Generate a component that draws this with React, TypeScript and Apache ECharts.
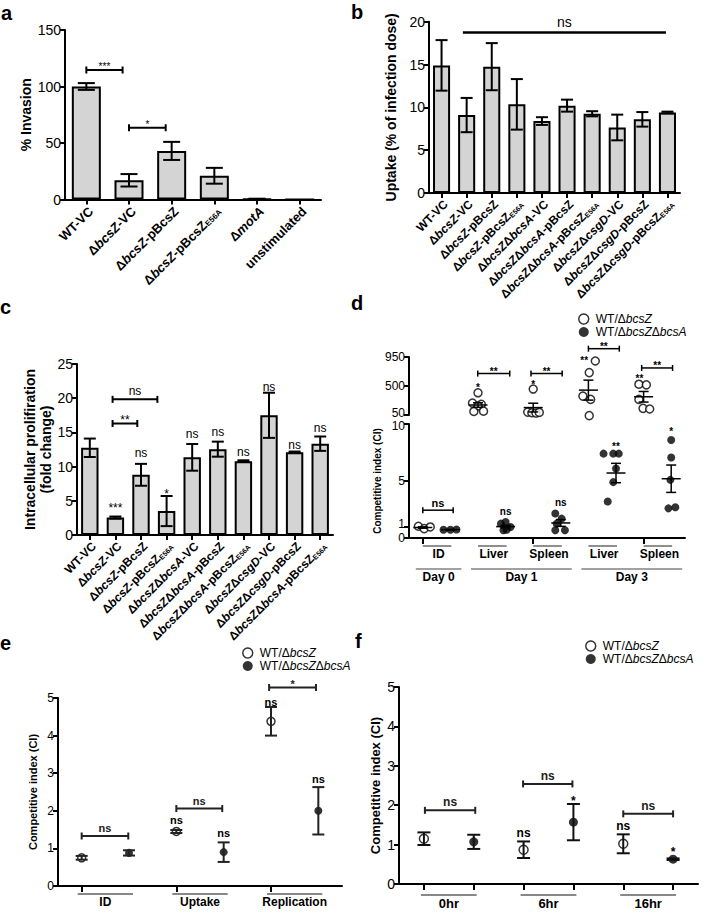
import React, { useEffect, useRef } from 'react';
import * as echarts from 'echarts';

const FONT = '"Liberation Sans", Arial, Helvetica, sans-serif';
const OPEN = 'WT/ΔbcsZ';
const FILLED = 'WT/ΔbcsZΔbcsA';

// ---------------- Panel a ----------------
const aCategories = ['WT-VC', 'ΔbcsZ-VC', 'ΔbcsZ-pBcsZ', 'ΔbcsZ-pBcsZE56A', 'ΔmotA', 'unstimulated'];
const aValues = [100, 17, 43, 21, 0.5, 0];
const aErrors = [3, 5.5, 8, 7, 0.2, 0];
const aBrackets: [number, number, number, string][] = [
  [0, 0.85, 114.6, '***'],
  [1, 1.86, 63.5, '*'],
];

// ---------------- Panel b ----------------
const bCategories = [
  'WT-VC', 'ΔbcsZ-VC', 'ΔbcsZ-pBcsZ', 'ΔbcsZ-pBcsZE56A', 'ΔbcsZΔbcsA-VC', 'ΔbcsZΔbcsA-pBcsZ',
  'ΔbcsZΔbcsA-pBcsZE56A', 'ΔbcsZΔcsgD-VC', 'ΔbcsZΔcsgD-pBcsZ', 'ΔbcsZΔcsgD-pBcsZE56A',
];
const bValues = [14.9, 9.1, 14.75, 10.35, 8.4, 10.2, 9.25, 7.65, 8.6, 9.4];
const bErrors = [2.95, 2.0, 2.75, 2.95, 0.45, 0.7, 0.3, 1.5, 0.85, 0.1];
const bBrackets: [number, number, number, string][] = [[0.85, 8.94, 18.75, 'ns']];

// ---------------- Panel c ----------------
const cCategories = [
  'WT-VC', 'ΔbcsZ-VC', 'ΔbcsZ-pBcsZ', 'ΔbcsZ-pBcsZE56A', 'ΔbcsZΔbcsA-VC', 'ΔbcsZΔbcsA-pBcsZ',
  'ΔbcsZΔbcsA-pBcsZE56A', 'ΔbcsZΔcsgD-VC', 'ΔbcsZΔcsgD-pBcsZ', 'ΔbcsZΔbcsA-pBcsZE56A ',
];
const cValues = [12.75, 2.55, 8.8, 3.5, 11.35, 12.55, 10.8, 17.5, 12.1, 13.35];
const cErrors = [1.35, 0.15, 1.6, 2.2, 1.95, 1.1, 0.12, 3.3, 0.1, 1.05];
const cBrackets: [number, number, number, string][] = [
  [0.89, 2.64, 19.83, 'ns'],
  [0.89, 1.855, 16.3, '**'],
];
const cMarks: [number, number, string][] = [
  [1, 4.48, '***'], [2, 12.04, 'ns'], [3, 6.58, '*'], [4, 14.77, 'ns'], [5, 15.0, 'ns'],
  [6, 12.1, 'ns'], [7, 21.7, 'ns'], [8, 13.16, 'ns'], [9, 15.6, 'ns'],
];

// ---------------- Panel d ----------------
const dSlots = ['ID-A', 'ID-B', 'D1Liver-A', 'D1Liver-B', 'D1Spleen-A', 'D1Spleen-B', 'D3Liver-A', 'D3Liver-B', 'D3Spleen-A', 'D3Spleen-B'];
const dTopSlots = [2, 4, 6, 8];
const dOpenBottomSlots = [0];
const dFilledSlots = [1, 3, 5, 7, 9];
const dTopTicks = [50, 500, 950];
const dBottomTicks = [0, 1, 5, 10];
const dPoints: number[][] = [
  [1.03, 0.82, 0.97],
  [0.73, 0.72, 0.74],
  [395, 235, 215, 190, 105, 110],
  [1.26, 1.41, 0.97, 0.68, 0.73],
  [453, 95, 85, 80, 90],
  [2.15, 1.7, 1.26, 0.68, 0.68],
  [888, 708, 343, 292, 40],
  [7.4, 7.4, 7.4, 6.1, 4.9, 3.2],
  [528, 518, 292, 153, 143],
  [8.6, 7.06, 5.1, 2.6, 2.7],
];
const dJitter: number[][] = [
  [-0.16, 0.05, 0.27],
  [-0.25, 0, 0.22],
  [0, -0.2, 0.12, 0.0, -0.15, 0.2],
  [-0.17, 0, 0.18, -0.08, 0.04],
  [0, -0.2, -0.05, 0.1, 0.22],
  [-0.2, 0.03, -0.15, -0.2, 0.15],
  [0.25, 0.03, -0.2, 0.08, 0.03],
  [-0.45, -0.1, 0.1, 0, -0.1, -0.3],
  [-0.17, 0.1, -0.17, -0.02, 0.22],
  [0, 0, -0.03, -0.1, 0.15],
];
const dMeans = [0.92, 0.73, 205, 1.0, 165, 1.32, 436, 5.7, 333, 5.2];
const dSems = [0.06, 0.02, 35, 0.12, 68, 0.3, 155, 0.85, 82, 1.2];
const dTopMarks: [number, number, string][] = [[2, 528, '*'], [4, 564, '*'], [5.85, 950, '**'], [7.85, 667, '**']];
const dBottomMarks: [number, number, string][] = [[7, 8.3, '**'], [9, 9.6, '*'], [3, 2.35, 'ns'], [5, 3.1, 'ns']];
const dTopBrackets: [number, number, number, string][] = [
  [1.99, 3.15, 693, '**'], [3.92, 5.05, 693, '**'], [6.0, 7.12, 1079, '**'], [7.93, 9.05, 780, '**'],
];
const dBottomBrackets: [number, number, number, string][] = [[0, 1.1, 2.44, 'ns']];
const dOrganLabels = ['ID', 'Liver', 'Spleen', 'Liver', 'Spleen'];
const dOrganSpans: [number, number][] = [[0, 1], [2, 3], [4, 5], [6, 7], [8, 9]];
const dDayLabels = ['Day 0', 'Day 1', 'Day 3'];
const dDaySpans: [number, number][] = [[0, 1], [2, 5], [6, 9]];

// ---------------- Panel e ----------------
const eGroups = ['ID', 'Uptake', 'Replication'];
const eSlots = ['ID-A', 'ID-B', 'Uptake-A', 'Uptake-B', 'Replication-A', 'Replication-B'];
const eOpenMean = [0.75, 1.45, 4.38];
const eOpenErr = [0.05, 0.04, 0.38];
const eFilledMean = [0.88, 0.9, 2.0];
const eFilledErr = [0.07, 0.26, 0.63];
const eMarks: [number, number, string][] = [[2, 1.75, 'ns'], [3, 1.4, 'ns'], [4, 4.9, 'ns'], [5, 2.85, 'ns']];
const eBrackets: [number, number, number, string][] = [[0, 0.985, 1.33, 'ns'], [2, 2.97, 2.06, 'ns'], [3.96, 4.95, 5.28, '*']];

// ---------------- Panel f ----------------
const fGroups = ['0hr', '6hr', '16hr'];
const fSlots = ['0hr-A', '0hr-B', '6hr-A', '6hr-B', '16hr-A', '16hr-B'];
const fOpenMean = [1.15, 0.87, 1.02];
const fOpenErr = [0.16, 0.21, 0.24];
const fFilledMean = [1.07, 1.57, 0.63];
const fFilledErr = [0.18, 0.46, 0.02];
const fMarks: [number, number, string][] = [[2, 1.3, 'ns'], [3, 2.2, '*'], [4, 1.46, 'ns'], [5, 0.91, '*']];
const fBrackets: [number, number, number, string][] = [[0.02, 1.03, 1.87, 'ns'], [1.99, 2.98, 2.54, 'ns'], [4.0, 5.0, 1.78, 'ns']];

// ---------------- helpers ----------------
function richName(s: string) {
  return s.trim().replace(/E56A$/, '{s|E56A}').replace(/(bcsZ|bcsA|csgD|motA)/g, '{i|$1}');
}
function rich(size: number, weight = 'bold') {
  return {
    i: { fontStyle: 'italic', fontWeight: weight, fontSize: size, fontFamily: FONT, color: '#000' },
    s: { fontWeight: weight, fontSize: Math.round(size * 0.62), fontFamily: FONT, color: '#000', verticalAlign: 'bottom', padding: [4, 0, 0, 0] },
  };
}

const px = (api: any, pos: number, y: number) => {
  const i = Math.floor(pos);
  const p = api.coord([i, y]);
  const w = api.size([1, 0])[0];
  return [p[0] + (pos - i) * w, p[1]];
};

const isStars = (t: string) => /^\*+$/.test(t);

function txt(x: number, y: number, text: string, size: number, weight = 'normal', va = 'middle', color = '#000') {
  return {
    type: 'text', x, y, silent: true,
    style: { text, fill: color, fontSize: size, fontWeight: weight, fontFamily: FONT, align: 'center', verticalAlign: va },
  };
}
function ln(x1: number, y1: number, x2: number, y2: number, lw: number, color = '#000') {
  return { type: 'line', silent: true, shape: { x1, y1, x2, y2 }, style: { stroke: color, lineWidth: lw } };
}

function custom(xAxisIndex: number, yAxisIndex: number, data: any[], renderItem: any, z = 5) {
  return { type: 'custom', xAxisIndex, yAxisIndex, data, renderItem, silent: true, clip: false, z, animation: false };
}

function bracketSeries(xi: number, yi: number, list: [number, number, number, string][], o: { cap: number; lw: number; size: number; weight: string; color?: string; gap?: number }) {
  const color = o.color || '#000';
  return custom(xi, yi, list.map((b) => [Math.floor(b[0]), b[2]]), (params: any, api: any) => {
    const b = list[params.dataIndex];
    const p1 = px(api, b[0], b[2]);
    const p2 = px(api, b[1], b[2]);
    const y = p1[1];
    const children: any[] = [ln(p1[0], y, p2[0], y, o.lw, color)];
    if (o.cap > 0) {
      children.push(ln(p1[0], y - o.cap / 2, p1[0], y + o.cap / 2, o.lw, color));
      children.push(ln(p2[0], y - o.cap / 2, p2[0], y + o.cap / 2, o.lw, color));
    }
    const stars = isStars(b[3]);
    children.push(txt((p1[0] + p2[0]) / 2, y - (o.gap ?? 2) + (stars ? o.size * 0.35 : 0), b[3], o.size, o.weight, 'bottom', color));
    return { type: 'group', children };
  });
}

function markSeries(xi: number, yi: number, list: [number, number, string][], size: number, weight: string) {
  return custom(xi, yi, list.map((m) => [Math.floor(m[0]), m[1]]), (params: any, api: any) => {
    const m = list[params.dataIndex];
    const p = px(api, m[0], m[1]);
    const stars = isStars(m[2]);
    return txt(p[0], p[1] + (stars ? size * 0.3 : 0), m[2], size, weight, 'middle');
  });
}

type ErrItem = { x: number; lo: number; hi: number; mean?: number };
function errSeries(xi: number, yi: number, items: ErrItem[], o: { cap: number; lw: number; meanW?: number; color?: string }, z = 6) {
  const color = o.color || '#000';
  return custom(xi, yi, items.map((it) => [Math.floor(it.x), it.hi]), (params: any, api: any) => {
    const it = items[params.dataIndex];
    const children: any[] = [];
    const t = px(api, it.x, it.hi);
    const b = px(api, it.x, it.lo);
    const x = t[0];
    if (it.hi !== it.lo) {
      children.push(ln(x, t[1], x, b[1], o.lw, color));
      children.push(ln(x - o.cap / 2, t[1], x + o.cap / 2, t[1], o.lw, color));
      children.push(ln(x - o.cap / 2, b[1], x + o.cap / 2, b[1], o.lw, color));
    }
    if (o.meanW && it.mean !== undefined) {
      const m = px(api, it.x, it.mean);
      children.push(ln(x - o.meanW / 2, m[1], x + o.meanW / 2, m[1], o.lw, color));
    }
    return { type: 'group', children };
  }, z);
}

function groupLabelSeries(xi: number, yi: number, labels: string[], spans: [number, number][], o: { lineDy: number; textDy: number; extL: number; extR: number; textDx?: number; size: number; color: string; lw: number }) {
  return custom(xi, yi, labels.map((_, k) => [spans[k][0], 0]), (params: any, api: any) => {
    const k = params.dataIndex;
    const p1 = px(api, spans[k][0], 0);
    const p2 = px(api, spans[k][1], 0);
    const y = p1[1];
    return {
      type: 'group',
      children: [
        ln(p1[0] - o.extL, y + o.lineDy, p2[0] + o.extR, y + o.lineDy, o.lw, o.color),
        txt((p1[0] + p2[0]) / 2 + (o.textDx || 0), y + o.textDy, labels[k], o.size, 'bold', 'middle'),
      ],
    };
  });
}

const axisLine = { show: true, onZero: false, lineStyle: { color: '#000', width: 2 } };
const axisTick = { show: true, length: 5, lineStyle: { color: '#000', width: 2 } };

function catAxis(grid: number, data: string[], size: number) {
  return {
    type: 'category', gridIndex: grid, data,
    axisLine, axisTick: { ...axisTick, alignWithLabel: true },
    axisLabel: {
      interval: 0, rotate: 45, fontSize: size, fontWeight: 'bold', fontFamily: FONT, color: '#000', margin: 5,
      verticalAlign: 'top',
      formatter: (v: string) => richName(v), rich: rich(size),
    },
    splitLine: { show: false },
  };
}
function plainCatAxis(grid: number, data: string[]) {
  return {
    type: 'category', gridIndex: grid, data,
    axisLine, axisTick: { ...axisTick, alignWithLabel: true, length: 6 },
    axisLabel: { show: false }, splitLine: { show: false },
  };
}
function hiddenValX(grid: number, n: number) {
  return { type: 'value', gridIndex: grid, min: -0.5, max: n - 0.5, show: false, splitLine: { show: false } };
}
function valY(grid: number, min: number, max: number, interval: number | null, size: number, name: string, nameGap: number, nameSize: number, custom?: number[], labelFmt?: (v: number) => string, labelRich?: any) {
  const ax: any = {
    type: 'value', gridIndex: grid, min, max,
    axisLine, axisTick: custom ? { ...axisTick, customValues: custom } : axisTick,
    axisLabel: {
      fontSize: size, fontFamily: FONT, color: '#000', margin: 4, showMinLabel: true, showMaxLabel: true, hideOverlap: false,
      ...(custom ? { customValues: custom } : {}),
      ...(labelFmt ? { formatter: labelFmt } : {}),
      ...(labelRich ? { rich: labelRich } : {}),
    },
    splitLine: { show: false },
    name, nameLocation: 'middle', nameGap, nameRotate: 90,
    nameTextStyle: { fontSize: nameSize, fontWeight: 'bold', fontFamily: FONT, color: '#000', lineHeight: nameSize + 2 },
  };
  if (interval !== null) ax.interval = interval;
  return ax;
}

const barStyle = { color: '#d4d4d4', borderColor: '#000', borderWidth: 2 };
const openStyle = { color: '#fff', borderColor: '#000', borderWidth: 1.5 };
const filledStyle = { color: '#000', borderColor: '#000', borderWidth: 0 };

function legendAt(left: number, top: number) {
  return {
    left, top, orient: 'vertical', itemGap: 1, itemWidth: 10, itemHeight: 10, selectedMode: false,
    icon: 'circle',
    data: [
      { name: OPEN, itemStyle: openStyle },
      { name: FILLED, itemStyle: filledStyle },
    ],
    formatter: (n: string) => n.replace(/(bcsZ|bcsA)/g, '{i|$1}'),
    textStyle: {
      fontSize: 12, fontFamily: FONT, color: '#000', padding: [0, 0, 0, 2],
      rich: { i: { fontStyle: 'italic', fontSize: 12, fontFamily: FONT, color: '#000' } },
    },
  };
}

function buildOption() {
  const series: any[] = [];

  // a
  series.push({ type: 'bar', xAxisIndex: 0, yAxisIndex: 0, data: aValues, barWidth: '68%', itemStyle: barStyle, silent: true });
  series.push(errSeries(0, 0, aValues.map((v, i) => ({ x: i, lo: v - aErrors[i], hi: v + aErrors[i] })), { cap: 17, lw: 2 }));
  series.push(bracketSeries(0, 0, aBrackets, { cap: 7, lw: 2, size: 10, weight: 'normal' }));

  // b
  series.push({ type: 'bar', xAxisIndex: 1, yAxisIndex: 1, data: bValues, barWidth: '68%', itemStyle: barStyle, silent: true });
  series.push(errSeries(1, 1, bValues.map((v, i) => ({ x: i, lo: v - bErrors[i], hi: v + bErrors[i] })), { cap: 12, lw: 2 }));
  series.push(bracketSeries(1, 1, bBrackets, { cap: 0, lw: 2.5, size: 14, weight: 'normal', gap: 3 }));

  // c
  series.push({ type: 'bar', xAxisIndex: 2, yAxisIndex: 2, data: cValues, barWidth: '68%', itemStyle: barStyle, silent: true });
  series.push(errSeries(2, 2, cValues.map((v, i) => ({ x: i, lo: v - cErrors[i], hi: v + cErrors[i] })), { cap: 12, lw: 2 }));
  series.push(bracketSeries(2, 2, cBrackets, { cap: 7, lw: 2, size: 12, weight: 'normal', gap: 2 }));
  series.push(markSeries(2, 2, cMarks, 12, 'normal'));

  // d
  const dScatter = (slots: number[]) => slots.flatMap((g) => dPoints[g].map((v, k) => [g + dJitter[g][k], v]));
  series.push({ type: 'scatter', name: OPEN, xAxisIndex: 3, yAxisIndex: 3, data: dScatter(dTopSlots), symbolSize: 8, itemStyle: openStyle, clip: false, silent: true });
  series.push({ type: 'scatter', name: OPEN, xAxisIndex: 5, yAxisIndex: 4, data: dScatter(dOpenBottomSlots), symbolSize: 8, itemStyle: openStyle, clip: false, silent: true });
  series.push({ type: 'scatter', name: FILLED, xAxisIndex: 5, yAxisIndex: 4, data: dScatter(dFilledSlots), symbolSize: 8, itemStyle: filledStyle, clip: false, silent: true });
  const dErr = (slots: number[]) => slots.map((g) => ({ x: g, lo: dMeans[g] - dSems[g], hi: dMeans[g] + dSems[g], mean: dMeans[g] }));
  series.push(errSeries(3, 3, dErr(dTopSlots), { cap: 10, lw: 1.5, meanW: 19 }));
  series.push(errSeries(5, 4, dErr([...dOpenBottomSlots, ...dFilledSlots]), { cap: 10, lw: 1.5, meanW: 19 }));
  series.push(markSeries(3, 3, dTopMarks, 10, 'bold'));
  series.push(markSeries(5, 4, dBottomMarks, 10, 'bold'));
  series.push(bracketSeries(3, 3, dTopBrackets, { cap: 6, lw: 1.5, size: 10, weight: 'bold', gap: 1 }));
  series.push(bracketSeries(5, 4, dBottomBrackets, { cap: 6, lw: 1.5, size: 11, weight: 'bold', gap: 2 }));
  series.push(groupLabelSeries(5, 4, dOrganLabels, dOrganSpans, { lineDy: 8, textDy: 16, extL: 0, extR: 1, textDx: 2, size: 12, color: '#444', lw: 1.2 }));
  series.push(groupLabelSeries(5, 4, dDayLabels, dDaySpans, { lineDy: 31, textDy: 39, extL: 7, extR: 11, textDx: 2, size: 12, color: '#444', lw: 1.2 }));

  // e
  series.push({ type: 'scatter', name: OPEN, xAxisIndex: 7, yAxisIndex: 5, data: eOpenMean.map((v, g) => [2 * g, v]), symbolSize: 8, itemStyle: openStyle, silent: true });
  series.push({ type: 'scatter', name: FILLED, xAxisIndex: 7, yAxisIndex: 5, data: eFilledMean.map((v, g) => [2 * g + 1, v]), symbolSize: 8, itemStyle: filledStyle, silent: true });
  series.push(errSeries(7, 5, [
    ...eOpenMean.map((v, g) => ({ x: 2 * g, lo: v - eOpenErr[g], hi: v + eOpenErr[g] })),
    ...eFilledMean.map((v, g) => ({ x: 2 * g + 1, lo: v - eFilledErr[g], hi: v + eFilledErr[g] })),
  ], { cap: 12, lw: 2, color: '#222' }));
  series.push(markSeries(7, 5, eMarks, 11, 'bold'));
  series.push(bracketSeries(7, 5, eBrackets, { cap: 7, lw: 2, size: 11, weight: 'bold', color: '#222', gap: 2 }));
  series.push(groupLabelSeries(7, 5, eGroups, [[0, 1], [2, 3], [4, 5]], { lineDy: 8, textDy: 16, extL: 4, extR: 4, size: 12, color: '#888', lw: 2 }));

  // f
  series.push({ type: 'scatter', name: OPEN, xAxisIndex: 9, yAxisIndex: 6, data: fOpenMean.map((v, g) => [2 * g, v]), symbolSize: 9, itemStyle: openStyle, silent: true });
  series.push({ type: 'scatter', name: FILLED, xAxisIndex: 9, yAxisIndex: 6, data: fFilledMean.map((v, g) => [2 * g + 1, v]), symbolSize: 9, itemStyle: filledStyle, silent: true });
  series.push(errSeries(9, 6, [
    ...fOpenMean.map((v, g) => ({ x: 2 * g, lo: v - fOpenErr[g], hi: v + fOpenErr[g] })),
    ...fFilledMean.map((v, g) => ({ x: 2 * g + 1, lo: v - fFilledErr[g], hi: v + fFilledErr[g] })),
  ], { cap: 13, lw: 2, color: '#111' }));
  series.push(markSeries(9, 6, fMarks, 12, 'bold'));
  series.push(bracketSeries(9, 6, fBrackets, { cap: 7, lw: 2, size: 12, weight: 'bold', color: '#222', gap: 2 }));
  series.push(groupLabelSeries(9, 6, fGroups, [[0, 1], [2, 3], [4, 5]], { lineDy: 11, textDy: 19, extL: 3, extR: 3, size: 13, color: '#888', lw: 2 }));

  const panelLabel = (text: string, x: number, y: number) => ({
    type: 'text', x, y, silent: true,
    style: { text, fontSize: 20, fontWeight: 'bold', fontFamily: FONT, fill: '#000', align: 'left', verticalAlign: 'middle' },
  });

  // the broken axis of panel d: lift "50" a little and drop "10" / "0" a little so they stay legible
  const dTopFmt = (v: number) => (v === dTopTicks[0] ? `{lo|${v}}` : `${v}`);
  const dBottomFmt = (v: number) => (v === dBottomTicks[dBottomTicks.length - 1] ? `{hi|${v}}` : v === dBottomTicks[1] ? `{lo|${v}}` : `${v}`);
  const dRich = {
    lo: { fontSize: 12, fontFamily: FONT, color: '#000', padding: [0, 0, 5, 0] },
    hi: { fontSize: 12, fontFamily: FONT, color: '#000', padding: [4, 0, 0, 0] },
  };

  return {
    animation: false,
    backgroundColor: '#fff',
    textStyle: { fontFamily: FONT },
    grid: [
      { left: 65, top: 30, width: 256, height: 169.5 },
      { left: 429, top: 21.7, width: 251, height: 171.3 },
      { left: 77, top: 364, width: 256, height: 171 },
      { left: 409, top: 357, width: 276, height: 58 },
      { left: 409, top: 424, width: 276, height: 114 },
      { left: 58, top: 698, width: 284, height: 188 },
      { left: 399, top: 687, width: 299, height: 197 },
    ],
    xAxis: [
      catAxis(0, aCategories, 13),
      catAxis(1, bCategories, 12),
      catAxis(2, cCategories, 12),
      hiddenValX(3, 10),
      plainCatAxis(4, dSlots),
      hiddenValX(4, 10),
      plainCatAxis(5, eSlots),
      hiddenValX(5, 6),
      plainCatAxis(6, fSlots),
      hiddenValX(6, 6),
    ],
    yAxis: [
      valY(0, 0, 150, 50, 14, '% Invasion', 30, 14),
      valY(1, 0, 20, 5, 14, 'Uptake (% of infection dose)', 30, 14),
      valY(2, 0, 25, 5, 14, 'Intracellular prolifiration\n(fold change)', 20, 14),
      valY(3, 50, 950, null, 12, '', 0, 10, dTopTicks, dTopFmt, dRich),
      valY(4, 0, 10, null, 12, 'Competitive index (CI)', 26, 10, dBottomTicks, dBottomFmt, dRich),
      valY(5, 0, 5, 1, 12, 'Competitive index (CI)', 19, 11),
      valY(6, 0, 5, 1, 14, 'Competitive index (CI)', 16, 13),
    ],
    legend: [legendAt(573, 308), legendAt(237, 642), legendAt(580, 635)],
    graphic: [
      panelLabel('a', 1, 13),
      panelLabel('b', 351, 12),
      panelLabel('c', 0, 307),
      panelLabel('d', 351, 303),
      panelLabel('e', 0, 643),
      panelLabel('f', 355, 641),
    ],
    series,
  };
}

export default function App() {
  const ref = useRef<HTMLDivElement>(null);
  useEffect(() => {
    const chart = echarts.init(ref.current!, undefined, { renderer: 'svg' });
    chart.setOption(buildOption() as any);
    return () => chart.dispose();
  }, []);
  return <div ref={ref} style={{ position: 'absolute', left: 0, top: 0, width: 707, height: 913, background: '#fff' }} />;
}
